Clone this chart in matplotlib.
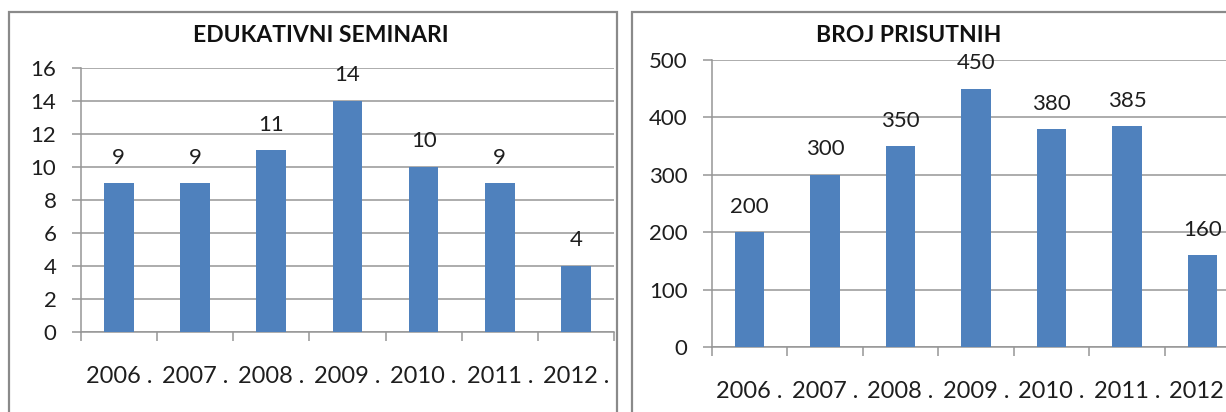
import matplotlib
matplotlib.use("Agg")
import matplotlib.pyplot as plt
from matplotlib.patches import Rectangle
from matplotlib.ticker import FixedLocator

years = ["2006", "2007", "2008", "2009", "2010", "2011", "2012"]
seminari = [9, 9, 11, 14, 10, 9, 4]
prisutni = [200, 300, 350, 450, 380, 385, 160]
title_left = "EDUKATIVNI SEMINARI"
title_right = "BROJ PRISUTNIH"
xlabels = [y + " ." for y in years]

W, H = 1226, 412
BAR = "#4F81BD"
GRID = "#969696"
TXT = "#1e1e1e"
plt.rcParams["font.family"] = ["Lato", "DejaVu Sans"]

fig = plt.figure(figsize=(W / 100, H / 100), dpi=100)
fig.patch.set_facecolor("white")


def fx(x):
    return x / W


def fy(y):
    return 1 - y / H


def make_axes(l, r, top, bot):
    return fig.add_axes([fx(l), fy(bot), fx(r) - fx(l), fy(top) - fy(bot)])


# panel borders
for (x0, x1) in [(9, 617), (632, 1260)]:
    fig.patches.append(Rectangle((fx(x0), fy(430)), fx(x1) - fx(x0), fy(12) - fy(430),
                                 transform=fig.transFigure, fill=False,
                                 edgecolor="#8a8a8a", linewidth=1.6, zorder=0))


def draw(ax, vals, ymax, ystep, title, tx):
    n = len(vals)
    xs = list(range(n))
    ax.bar(xs, vals, width=0.39, color=BAR, zorder=3)
    ax.set_xlim(-0.5, n - 0.5)
    ax.set_ylim(0, ymax)
    ax.set_facecolor("none")
    for s in ["top", "right"]:
        ax.spines[s].set_visible(False)
    for s in ["left", "bottom"]:
        ax.spines[s].set_color(GRID)
        ax.spines[s].set_linewidth(1.1)
    ax.set_yticks(list(range(0, ymax + 1, ystep)))
    ax.yaxis.grid(True, color=GRID, linewidth=1.1, zorder=0)
    ax.set_axisbelow(True)
    ax.tick_params(axis="y", length=6.5, width=1.1, color=GRID, pad=11.0,
                   labelsize=16, labelcolor=TXT)
    ax.set_xticks(xs)
    ax.set_xticklabels(xlabels)
    ax.tick_params(axis="x", which="major", length=0, pad=24.5, labelsize=17, labelcolor=TXT)
    ax.xaxis.set_minor_locator(FixedLocator([i - 0.5 for i in range(n + 1)]))
    ax.tick_params(axis="x", which="minor", length=6.5, width=1.1, color=GRID)
    for i, v in enumerate(vals):
        ax.annotate(str(v), xy=(i, v), xytext=(0, 14), textcoords="offset points",
                    ha="center", va="baseline", fontsize=16, color=TXT, zorder=4)
    fig.text(fx(tx), fy(34), title, ha="center", va="center_baseline",
             fontsize=16.5, fontweight="bold", color="#111111")


axL = make_axes(80.7, 614.1, 67.7, 331.7)
draw(axL, seminari, 16, 2, title_left, 321)

axR = make_axes(711.7, 1240.2, 60.0, 347.3)
draw(axR, prisutni, 500, 100, title_right, 909)

fig.savefig("out.png", dpi=100, facecolor="white")
